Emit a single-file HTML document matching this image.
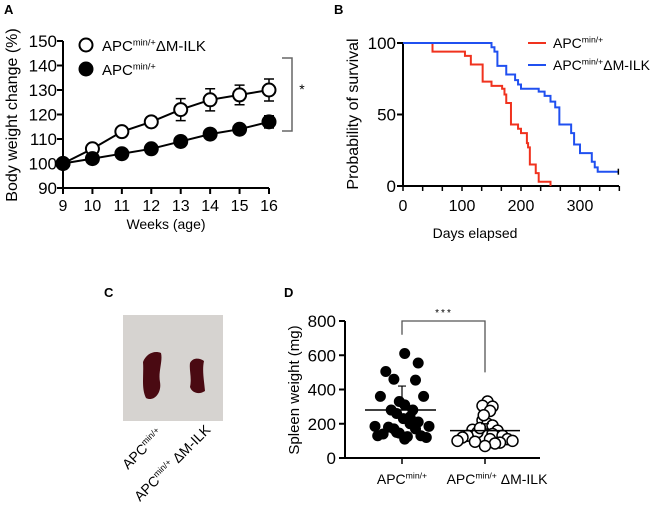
<!DOCTYPE html>
<html><head><meta charset="utf-8"><style>
body{margin:0;background:#fff;}
svg{display:block;font-family:"Liberation Sans",Arial,sans-serif;}
</style></head><body>
<svg id="fig" width="652" height="509" viewBox="0 0 652 509">
<g id="pA"></g>
<g id="pB"></g>
<g id="pC"></g>
<g id="pD"></g>
</svg>
<script>
// Panel A data
const weeks=[9,10,11,12,13,14,15,16];
const ilkMean=[100,106,113,117,122,126,128,130];
const ilkErr=[0,1,1,2,4.5,4.5,4,4.5];
const apcMean=[100,102,104,106,109,112,114,117];
const apcErr=[0,0,0,0,2,0,2,2.5];
const aYTicks=[90,100,110,120,130,140,150];
// Panel B data
const redDays=[0,50,105,115,135,150,168,172,175,183,195,200,210,212,215,225,230,250];
const redSurv=[100,94,91,85,73,70,68,64,58,43,40,37,30,27,15,9,3,0];
const blueDays=[0,150,155,160,175,190,195,200,230,240,250,258,265,285,290,300,320,325,330,365];
const blueSurv=[100,97,94,84,78,74,71,68,66,63,59,55,43,37,29,23,17,13,10,10];
const bXTicks=[0,100,200,300];
const bYTicks=[0,50,100];
// Panel D data
const g1Vals=[610,555,505,460,455,360,360,330,310,280,280,260,240,210,185,185,180,170,150,140,130,130,125,120,110,170,200,230,145];
const g1Jit=[0.1,0.6,-0.6,-0.3,0.5,-0.8,0.8,-0.1,0.1,-0.4,0.4,-0.2,0.3,0.6,-1,1,-0.5,0.5,-0.2,-0.7,-0.9,0.7,0.2,0.9,0.1,-0.3,0.3,0.05,-0.1];
const g2Vals=[330,305,300,275,220,200,190,165,160,150,140,130,130,120,110,110,100,100,95,90,85,70,250,175];
const g2Jit=[0.1,-0.1,0.3,0.2,-0.1,0.1,0.3,-0.5,0.5,-0.3,0.3,-0.7,0.7,-0.9,0.9,0.2,-1.1,1.1,-0.4,0.6,0.4,0,-0.05,-0.2];
const g1Mean=280,g2Mean=160,g1SD=420,g2SD=200;
const dYTicks=[0,200,400,600,800];

const NS='http://www.w3.org/2000/svg';
function mk(p,tag,at,name,txt){const e=document.createElementNS(NS,tag);for(const k in at)e.setAttribute(k,at[k]);


if(txt!==undefined)e.textContent=txt;p.appendChild(e);return e;}
function sup(p,x,y,base,s,fs,name,anchor){const t=mk(p,'text',{x:x,y:y,'font-size':fs,'text-anchor':anchor||'start'},name);
const a=document.createElementNS(NS,'tspan');a.textContent=base;t.appendChild(a);
const b=document.createElementNS(NS,'tspan');b.setAttribute('font-size',fs*0.62);b.setAttribute('dy',-fs*0.38);b.textContent=s[0];t.appendChild(b);
if(s[1]){const c=document.createElementNS(NS,'tspan');c.setAttribute('dy',fs*0.38);c.textContent=s[1];t.appendChild(c);}return t;}

// ---- Panel A
const A=document.getElementById('pA');
const ax=w=>63+(w-9)*(206/7), ay=v=>188-(v-90)*(147/60);
mk(A,'text',{x:4,y:14,'font-size':13,'font-weight':'bold'},'panel-a-label','A');
mk(A,'line',{x1:63,y1:41,x2:63,y2:188,stroke:'#000','stroke-width':2},'y-axis');
mk(A,'line',{x1:63,y1:188,x2:269,y2:188,stroke:'#000','stroke-width':2},'x-axis');
aYTicks.forEach(v=>{mk(A,'line',{x1:57,y1:ay(v),x2:63,y2:ay(v),stroke:'#000','stroke-width':2},'y-tick');
mk(A,'text',{x:57,y:ay(v)+6,'font-size':17,'text-anchor':'end'},'y-tick-label',v);});
weeks.forEach(w=>{mk(A,'line',{x1:ax(w),y1:188,x2:ax(w),y2:194,stroke:'#000','stroke-width':2},'x-tick');
mk(A,'text',{x:ax(w),y:211,'font-size':16,'text-anchor':'middle'},'x-tick-label',w);});
mk(A,'text',{x:0,y:0,'font-size':16,'text-anchor':'middle',transform:'translate(17,115) rotate(-90)'},'y-axis-title','Body weight change (%)');
mk(A,'text',{x:166,y:229,'font-size':14,'text-anchor':'middle'},'x-axis-title','Weeks (age)');
function series(m,e,fill,nm){mk(A,'polyline',{points:weeks.map((w,i)=>ax(w)+','+ay(m[i])).join(' '),fill:'none',stroke:'#000','stroke-width':2},nm+'-line');
weeks.forEach((w,i)=>{if(e[i]>0){const x=ax(w);mk(A,'path',{d:`M${x},${ay(m[i]-e[i])}V${ay(m[i]+e[i])}M${x-5},${ay(m[i]+e[i])}h10M${x-5},${ay(m[i]-e[i])}h10`,stroke:'#000','stroke-width':1.5,fill:'none'},nm+'-error');}
mk(A,'circle',{cx:ax(w),cy:ay(m[i]),r:6.5,fill:fill,stroke:'#000','stroke-width':2},nm+'-point');});}
series(ilkMean,ilkErr,'#fff','ilk');
series(apcMean,apcErr,'#000','apc');
mk(A,'line',{x1:80,y1:45,x2:93,y2:45,stroke:'#000','stroke-width':2},'legend-line');
mk(A,'circle',{cx:86,cy:45,r:6.5,fill:'#fff',stroke:'#000','stroke-width':2},'legend-marker-ilk');
sup(A,102,51,'APC',['min/+','ΔM-ILK'],15,'legend-entry-ilk');
mk(A,'line',{x1:80,y1:69,x2:93,y2:69,stroke:'#000','stroke-width':2},'legend-line');
mk(A,'circle',{cx:86,cy:69,r:6.5,fill:'#000',stroke:'#000','stroke-width':2},'legend-marker-apc');
sup(A,102,75,'APC',['min/+'],15,'legend-entry-apc');
mk(A,'path',{d:'M282,58H292V131H282',fill:'none',stroke:'#666','stroke-width':1.5},'significance-bracket');
mk(A,'text',{x:302,y:94,'font-size':14,'text-anchor':'middle'},'significance-star','*');

// ---- Panel B
const B=document.getElementById('pB');
const bx=d=>403+d*(177/300), by=s=>186-s*1.43;
mk(B,'text',{x:334,y:14,'font-size':13,'font-weight':'bold'},'panel-b-label','B');
mk(B,'line',{x1:403,y1:43,x2:403,y2:186,stroke:'#000','stroke-width':2},'y-axis');
mk(B,'line',{x1:403,y1:186,x2:619,y2:186,stroke:'#000','stroke-width':2},'x-axis');
bYTicks.forEach(v=>{mk(B,'line',{x1:397,y1:by(v),x2:403,y2:by(v),stroke:'#000','stroke-width':2},'y-tick');
mk(B,'text',{x:396,y:by(v)+6,'font-size':17,'text-anchor':'end'},'y-tick-label',v);});
for(let k=0;k<=11;k++){const d=k*100/3;mk(B,'line',{x1:bx(d),y1:186,x2:bx(d),y2:191,stroke:'#000','stroke-width':1.5},'x-tick');}
bXTicks.forEach(v=>mk(B,'text',{x:bx(v),y:211,'font-size':16,'text-anchor':'middle'},'x-tick-label',v));
mk(B,'text',{x:0,y:0,'font-size':16,'text-anchor':'middle',transform:'translate(358,114) rotate(-90)'},'y-axis-title','Probability of survival');
mk(B,'text',{x:475,y:238,'font-size':14,'text-anchor':'middle'},'x-axis-title','Days elapsed');
function km(days,surv,col,nm){let d='M'+bx(days[0])+','+by(surv[0]);for(let i=1;i<days.length;i++){d+='H'+bx(days[i])+'V'+by(surv[i]);}
mk(B,'path',{d:d,fill:'none',stroke:col,'stroke-width':2},nm);}
km(redDays,redSurv,'#f0321e','survival-apc');
km(blueDays,blueSurv,'#2050f0','survival-ilk');
mk(B,'line',{x1:bx(365),y1:by(10)-3,x2:bx(365),y2:by(10)+3,stroke:'#000','stroke-width':1.5},'censor-mark');
mk(B,'line',{x1:528,y1:43,x2:546,y2:43,stroke:'#f0321e','stroke-width':2},'legend-line-apc');
sup(B,553,48,'APC',['min/+'],14,'legend-entry-apc');
mk(B,'line',{x1:528,y1:65,x2:546,y2:65,stroke:'#2050f0','stroke-width':2},'legend-line-ilk');
sup(B,553,70,'APC',['min/+','ΔM-ILK'],14,'legend-entry-ilk');

// ---- Panel C
const C=document.getElementById('pC');
mk(C,'text',{x:104,y:297,'font-size':13,'font-weight':'bold'},'panel-c-label','C');
mk(C,'rect',{x:123,y:315,width:100,height:106,fill:'#d6d3d0'},'spleen-photo');
mk(C,'path',{d:'M143,362 C146,354 154,350 161,353 C163,361 158,372 160,382 C162,394 153,402 146,398 C141,388 144,375 143,362Z',fill:'#4a0a12'},'spleen-apc');
mk(C,'path',{d:'M190,363 C193,357 200,358 204,361 C202,370 204,380 205,391 C199,395 192,393 190,387 C192,378 189,370 190,363Z',fill:'#4a0a12'},'spleen-ilk');
sup(C,0,0,'APC',['min/+'],14,'label-apc').setAttribute('transform','translate(128,470) rotate(-45)');
sup(C,0,0,'APC',['min/+',' ΔM-ILK'],14,'label-ilk').setAttribute('transform','translate(140,502) rotate(-45)');

// ---- Panel D
const D=document.getElementById('pD');
const dy=v=>458-v*(137/800), c1=402, c2=485;
mk(D,'text',{x:284,y:297,'font-size':13,'font-weight':'bold'},'panel-d-label','D');
mk(D,'line',{x1:345,y1:321,x2:345,y2:458,stroke:'#000','stroke-width':2},'y-axis');
mk(D,'line',{x1:345,y1:458,x2:540,y2:458,stroke:'#000','stroke-width':2},'x-axis');
dYTicks.forEach(v=>{mk(D,'line',{x1:339,y1:dy(v),x2:345,y2:dy(v),stroke:'#000','stroke-width':2},'y-tick');
mk(D,'text',{x:336,y:dy(v)+6,'font-size':17,'text-anchor':'end'},'y-tick-label',v);});
[c1,c2].forEach(c=>mk(D,'line',{x1:c,y1:458,x2:c,y2:464,stroke:'#000','stroke-width':1.5},'x-tick'));
mk(D,'text',{x:0,y:0,'font-size':15,'text-anchor':'middle',transform:'translate(299,390) rotate(-90)'},'y-axis-title','Spleen weight (mg)');
sup(D,c1,484,'APC',['min/+'],14,'x-tick-label-apc','middle');
sup(D,c2+12,484,'APC',['min/+',' ΔM-ILK'],14,'x-tick-label-ilk','middle');
g1Vals.forEach((v,i)=>mk(D,'circle',{cx:c1+g1Jit[i]*27,cy:dy(v),r:5.5,fill:'#000'},'point-apc'));
g2Vals.forEach((v,i)=>mk(D,'circle',{cx:c2+g2Jit[i]*25,cy:dy(v),r:5.5,fill:'#fff',stroke:'#000','stroke-width':1.5},'point-ilk'));
mk(D,'line',{x1:365,y1:dy(g1Mean),x2:436,y2:dy(g1Mean),stroke:'#000','stroke-width':1.5},'mean-apc');
mk(D,'line',{x1:450,y1:dy(g2Mean),x2:520,y2:dy(g2Mean),stroke:'#000','stroke-width':1.5},'mean-ilk');
mk(D,'path',{d:`M${c1},${dy(g1Mean)}V${dy(g1SD)}M${c1-4},${dy(g1SD)}h8`,stroke:'#000','stroke-width':1.2,fill:'none'},'sd-apc');
mk(D,'path',{d:`M${c2},${dy(g2Mean)}V${dy(g2SD)}M${c2-4},${dy(g2SD)}h8`,stroke:'#000','stroke-width':1.2,fill:'none'},'sd-ilk');
mk(D,'path',{d:`M${c1},${dy(720)}V${dy(800)}H${c2}V${dy(500)}`,fill:'none',stroke:'#555','stroke-width':1.3},'significance-bracket');
mk(D,'text',{x:444,y:316,'font-size':10,'text-anchor':'middle','letter-spacing':'2'},'significance-stars','***');
</script>
</body></html>
